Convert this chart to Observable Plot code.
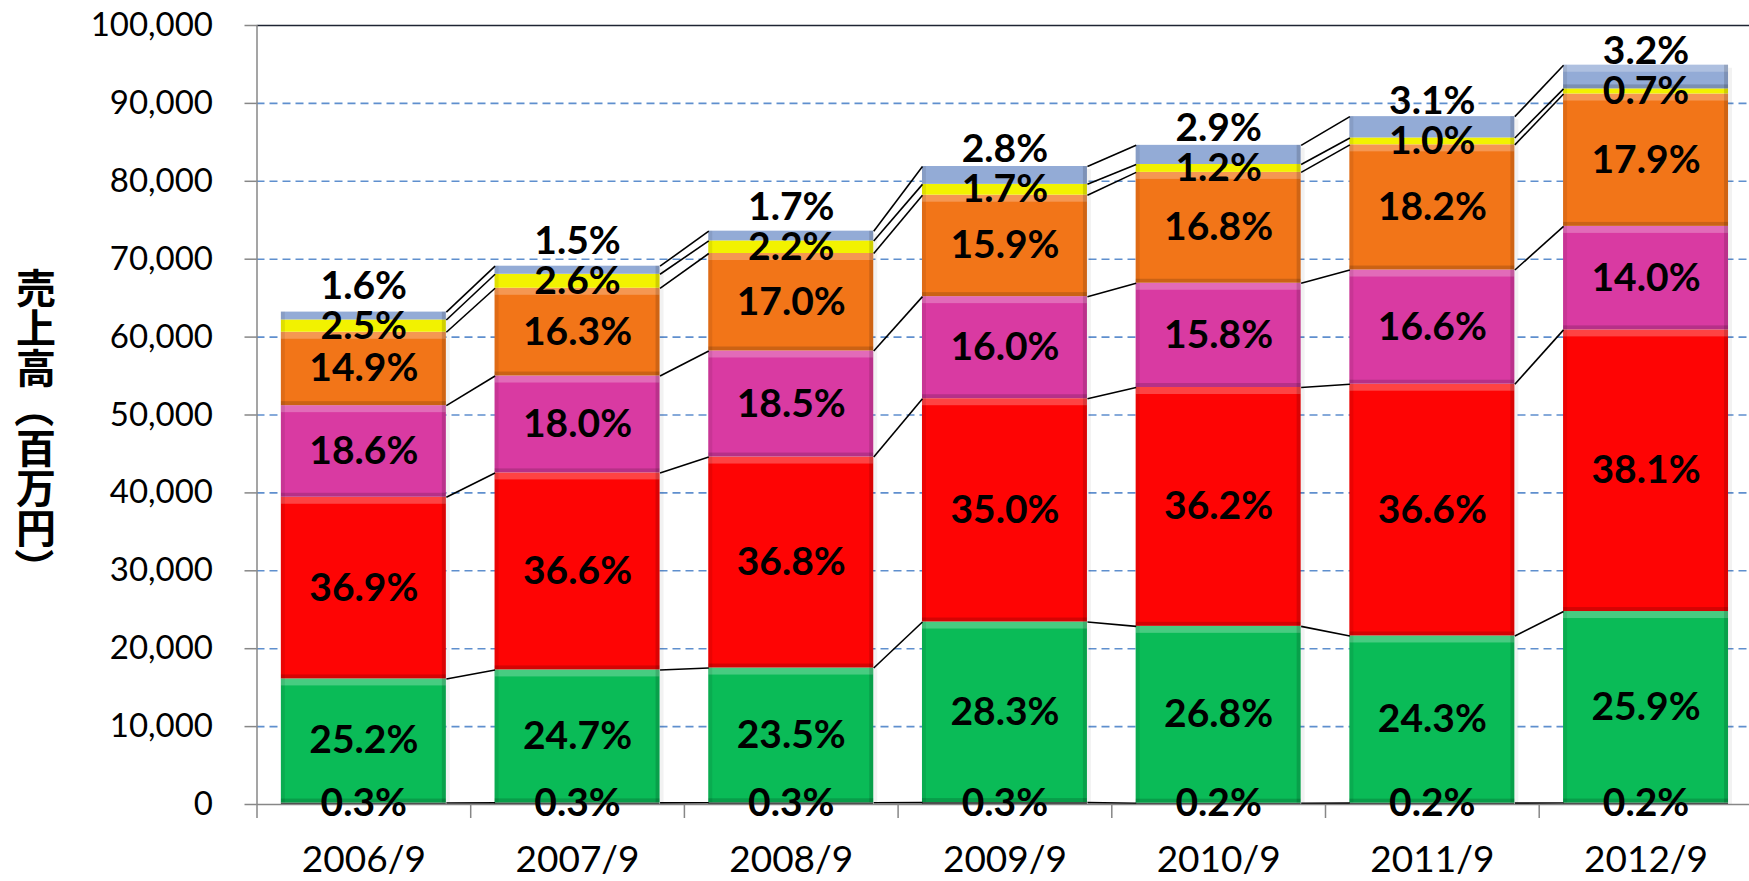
<!DOCTYPE html>
<html><head><meta charset="utf-8">
<script src="https://cdn.jsdelivr.net/npm/d3@7"></script>
<script src="https://cdn.jsdelivr.net/npm/@observablehq/plot@0.6"></script>
<style>
html,body{margin:0;padding:0;background:#fff;overflow:hidden;}
#wrap{position:relative;width:1749px;height:881px;overflow:hidden;}
#ytitle{position:absolute;left:16px;top:268px;writing-mode:vertical-rl;text-orientation:upright;font-family:"Noto Sans CJK JP";font-weight:bold;font-size:40px;line-height:40px;color:#000;}
#ytitle .p{text-orientation:sideways;}
</style></head><body>
<div id="wrap"><div id="ytitle">売上高<span class="p">（</span>百万円<span class="p">）</span></div></div>
<script>
// ---- data (百万円) ----
const categories = ["2006/9","2007/9","2008/9","2009/9","2010/9","2011/9","2012/9"];
const seriesKeys = ["s0","green","red","magenta","orange","yellow","blue"];
const seriesColors = ["#3c3c3c","#0abb57","#fe0404","#d93aa2","#f27518","#f2f200","#93abd6"];
const s0      = [190, 207, 221, 246, 169, 177, 190];
const green   = [15930, 17068, 17296, 23178, 22700, 21457, 24579];
const red     = [23320, 25291, 27085, 28665, 30661, 32318, 36157];
const magenta = [11760, 12438, 13616, 13104, 13383, 14658, 13286];
const orange  = [9420, 11263, 12512, 13022, 14230, 16071, 16987];
const yellow  = [1580, 1797, 1619, 1392, 1016, 883, 664];
const blue    = [1010, 1037, 1251, 2293, 2456, 2737, 3037];
const pctS0      = ["0.3%","0.3%","0.3%","0.3%","0.2%","0.2%","0.2%"];
const pctGreen   = ["25.2%","24.7%","23.5%","28.3%","26.8%","24.3%","25.9%"];
const pctRed     = ["36.9%","36.6%","36.8%","35.0%","36.2%","36.6%","38.1%"];
const pctMagenta = ["18.6%","18.0%","18.5%","16.0%","15.8%","16.6%","14.0%"];
const pctOrange  = ["14.9%","16.3%","17.0%","15.9%","16.8%","18.2%","17.9%"];
const pctYellow  = ["2.5%","2.6%","2.2%","1.7%","1.2%","1.0%","0.7%"];
const pctBlue    = ["1.6%","1.5%","1.7%","2.8%","2.9%","3.1%","3.2%"];
const yTicks = [0,10000,20000,30000,40000,50000,60000,70000,80000,90000,100000];

// ---- build stacked table ----
const seriesValues = [s0, green, red, magenta, orange, yellow, blue];
const seriesPct = [pctS0, pctGreen, pctRed, pctMagenta, pctOrange, pctYellow, pctBlue];
const hw = 0.386; // half bar width in category units
const segs = [];
categories.forEach((c, i) => {
  let acc = 0;
  seriesValues.forEach((vals, s) => {
    const y1 = acc, y2 = acc + vals[i];
    segs.push({i, s, key: seriesKeys[s], y1, y2, ymid: (y1 + y2) / 2, label: seriesPct[s][i], value: vals[i]});
    acc = y2;
  });
});
const segAt = (i, s) => segs.find(d => d.i === i && d.s === s);
const links = [];
for (let i = 0; i < categories.length - 1; i++) {
  for (let s = 0; s < seriesKeys.length; s++) {
    links.push({xa: i + hw, xb: i + 1 - hw, ya: segAt(i, s).y2, yb: segAt(i + 1, s).y2});
  }
}
const labelsMain = segs.filter(d => d.s !== 6);
const labelsTop = segs.filter(d => d.s === 6).map(d => ({...d, yAnchor: segAt(d.i, 5).ymid}));
const big = segs.filter(d => d.value > 3000);
const visible = segs.filter(d => d.s !== 0);
const tops = categories.map((c, i) => ({i, top: segAt(i, 6).y2}));

const chart = Plot.plot({
  width: 1749, height: 881,
  marginLeft: 256.5, marginRight: -3.4, marginTop: 25, marginBottom: 77,
  x: {type: "linear", domain: [-0.5, 6.5], range: [256.5, 1752.4]},
  y: {domain: [0, 100000], range: [804, 25]},
  color: {domain: seriesKeys, range: seriesColors},
  style: {fontFamily: "Lato, 'Open Sans', sans-serif", background: "white", overflow: "hidden"},
  marks: [
    Plot.ruleY(yTicks.filter(t => t > 0 && t < 100000), {stroke: "#5f8fce", strokeWidth: 1.6, strokeDasharray: "8,5"}),
    Plot.ruleY([100000], {stroke: "#1e2433", strokeWidth: 1.6}),
    // soft drop shadow right of bars
    Plot.rect(tops, {x1: d => d.i + hw, x2: d => d.i + hw, y1: 0, y2: "top", insetRight: -4, insetTop: 3, fill: "#000", fillOpacity: 0.05}),
    // bars
    Plot.rect(segs, {x1: d => d.i - hw, x2: d => d.i + hw, y1: "y1", y2: "y2", fill: "key"}),
    // bevel: top highlight, bottom shade, side shades
    Plot.rect(big, {x1: d => d.i - hw, x2: d => d.i + hw, y1: "y2", y2: "y2", insetBottom: -7, fill: "#fff", fillOpacity: 0.25}),
    Plot.rect(big, {x1: d => d.i - hw, x2: d => d.i + hw, y1: "y1", y2: "y1", insetTop: -4, fill: "#000", fillOpacity: 0.16}),
    Plot.rect(visible, {x1: d => d.i - hw, x2: d => d.i - hw, y1: "y1", y2: "y2", insetRight: -4, fill: "#000", fillOpacity: 0.08}),
    Plot.rect(visible, {x1: d => d.i + hw, x2: d => d.i + hw, y1: "y1", y2: "y2", insetLeft: -4, fill: "#000", fillOpacity: 0.14}),
    // connector lines
    Plot.link(links, {x1: "xa", x2: "xb", y1: "ya", y2: "yb", stroke: "#000", strokeWidth: 1.6}),
    // axes
    Plot.ruleX([-0.5], {y1: 0, y2: 100000, stroke: "#878787", strokeWidth: 1.5}),
    Plot.ruleY([0], {stroke: "#878787", strokeWidth: 1.5}),
    Plot.axisY(yTicks, {tickSize: 12, tickPadding: 32, fontSize: 33, stroke: "#878787", strokeWidth: 1.5, tickFormat: d3.format(","), label: null, fill: "#000"}),
    Plot.axisX(d3.range(-0.5, 7, 1), {tickSize: 14, stroke: "#878787", strokeWidth: 1.5, tickFormat: () => "", label: null}),
    Plot.axisX(d3.range(categories.length), {tickSize: 0, tickPadding: 41, fontSize: 37, tickFormat: i => categories[i], label: null, fill: "#000"}),
    // percentage labels
    Plot.text(labelsMain, {x: "i", y: "ymid", text: "label", fontSize: 39, fontWeight: "bold", fill: "#000"}),
    Plot.text(labelsTop, {x: "i", y: "yAnchor", text: "label", dy: -40, fontSize: 39, fontWeight: "bold", fill: "#000"})
  ]
});
document.getElementById("wrap").prepend(chart);
</script>
</body></html>
